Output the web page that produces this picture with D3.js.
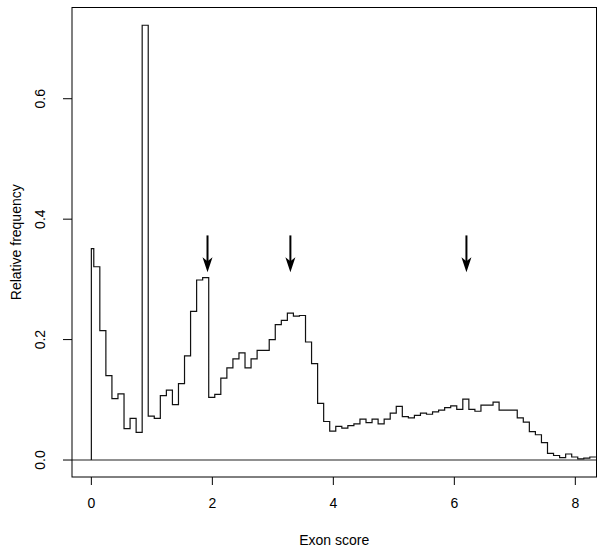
<!DOCTYPE html>
<html>
<head>
<meta charset="utf-8">
<script src="https://cdn.jsdelivr.net/npm/d3@7"></script>
<style>
  body { margin: 0; background: #fff; }
  text { font-family: "Liberation Sans", Arial, sans-serif; fill: #000; }
</style>
</head>
<body>
<div id="chart"></div>
<script>
// Histogram of exon scores
// first bin runs 0 to 0.04, the rest are 0.1 wide
const firstBin = [0, 0.04];
const binWidth = 0.1;
const freq = [
  0.351, 0.321, 0.215, 0.140, 0.102, 0.110, 0.052, 0.069, 0.046, 0.722,
  0.073, 0.069, 0.107, 0.116, 0.092, 0.127, 0.173, 0.247, 0.299, 0.303,
  0.104, 0.109, 0.136, 0.153, 0.168, 0.178, 0.153, 0.168, 0.182, 0.182,
  0.200, 0.225, 0.232, 0.244, 0.239, 0.240, 0.196, 0.160, 0.094, 0.064,
  0.048, 0.056, 0.053, 0.057, 0.060, 0.068, 0.062, 0.068, 0.060, 0.068,
  0.078, 0.089, 0.072, 0.070, 0.074, 0.078, 0.076, 0.080, 0.083, 0.087,
  0.090, 0.084, 0.101, 0.084, 0.081, 0.091, 0.091, 0.096, 0.083, 0.083,
  0.083, 0.070, 0.063, 0.047, 0.042, 0.029, 0.011, 0.0075, 0.004, 0.010,
  0.005, 0.002, 0.003, 0.005
];
// arrows marking the three modes
const arrowX = [1.92, 3.29, 6.2];
const arrowTop = 0.373;
const arrowTip = 0.312;

const xTicks = [0, 2, 4, 6, 8];
const yTicks = [0, 0.2, 0.4, 0.6];

const width = 600, height = 550;
const plotL = 72, plotR = 596.5, plotT = 7.5, plotB = 477;

const svg = d3.select('#chart').append('svg')
  .attr('width', width)
  .attr('height', height);

const x = d3.scaleLinear().domain([-0.32, 8.35]).range([plotL, plotR]);
const y = d3.scaleLinear().domain([-0.0282, 0.7515]).range([plotB, plotT]);

// bin edges: 0, 0.04, 0.14, 0.24, ...
const edges = [firstBin[0]];
for (let i = 0; i < freq.length; i++) edges.push(firstBin[1] + binWidth * i);

// step points, starting from the baseline at x = 0
const pts = [[0, 0]];
freq.forEach((f, i) => pts.push([edges[i], f]));
pts.push([edges[freq.length], freq[freq.length - 1]]);

svg.append('clipPath').attr('id', 'plotclip')
  .append('rect')
  .attr('x', plotL).attr('y', plotT)
  .attr('width', plotR - plotL).attr('height', plotB - plotT);

const g = svg.append('g').attr('clip-path', 'url(#plotclip)');

// zero line
g.append('line')
  .attr('x1', plotL).attr('x2', plotR)
  .attr('y1', y(0)).attr('y2', y(0))
  .attr('stroke', '#222')
  .attr('stroke-width', 1.1);

const line = d3.line()
  .x(d => x(d[0]))
  .y(d => y(d[1]))
  .curve(d3.curveStepAfter);

g.append('path')
  .datum(pts)
  .attr('d', line)
  .attr('fill', 'none')
  .attr('stroke', '#111')
  .attr('stroke-width', 1.2);

// arrows
const arrows = svg.append('g');
arrowX.forEach(ax => {
  const cx = x(ax), y0 = y(arrowTop), y1 = y(arrowTip);
  arrows.append('line')
    .attr('x1', cx).attr('x2', cx)
    .attr('y1', y0).attr('y2', y1 - 8)
    .attr('stroke', '#000')
    .attr('stroke-width', 2);
  arrows.append('path')
    .attr('d', `M${cx},${y1} L${cx - 5},${y1 - 15} L${cx},${y1 - 11} L${cx + 5},${y1 - 15} Z`)
    .attr('fill', '#000');
});

// box
svg.append('rect')
  .attr('x', plotL).attr('y', plotT)
  .attr('width', plotR - plotL).attr('height', plotB - plotT)
  .attr('fill', 'none')
  .attr('stroke', '#000')
  .attr('stroke-width', 1);

// x axis
const xAxis = svg.append('g');
xTicks.forEach(t => {
  xAxis.append('line')
    .attr('x1', x(t)).attr('x2', x(t))
    .attr('y1', plotB).attr('y2', plotB + 8)
    .attr('stroke', '#000');
  xAxis.append('text')
    .attr('x', x(t)).attr('y', 508)
    .attr('text-anchor', 'middle')
    .style('font-size', '14px')
    .text(t);
});
svg.append('text')
  .attr('x', (plotL + plotR) / 2).attr('y', 545)
  .attr('text-anchor', 'middle')
  .style('font-size', '14px')
  .text('Exon score');

// y axis
const yAxis = svg.append('g');
yTicks.forEach(t => {
  yAxis.append('line')
    .attr('x1', plotL - 9).attr('x2', plotL)
    .attr('y1', y(t)).attr('y2', y(t))
    .attr('stroke', '#000');
  yAxis.append('text')
    .attr('transform', `translate(45,${y(t)}) rotate(-90)`)
    .attr('text-anchor', 'middle')
    .style('font-size', '14px')
    .text(t.toFixed(1));
});
svg.append('text')
  .attr('transform', `translate(21,${(plotT + plotB) / 2}) rotate(-90)`)
  .attr('text-anchor', 'middle')
  .style('font-size', '14px')
  .text('Relative frequency');
</script>
</body>
</html>
